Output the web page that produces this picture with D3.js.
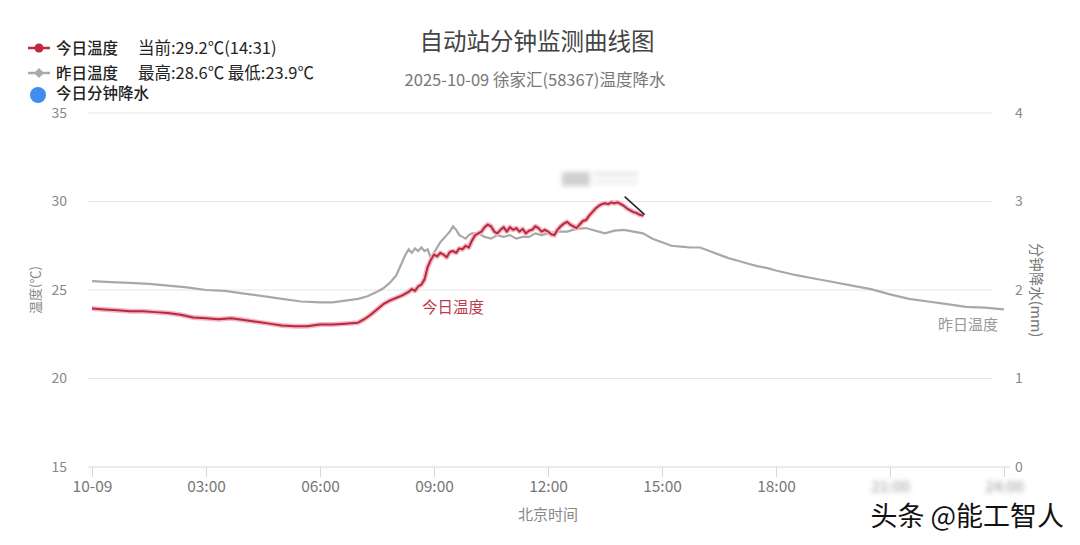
<!DOCTYPE html>
<html>
<head>
<meta charset="utf-8">
<script src="https://cdn.jsdelivr.net/npm/d3@7"></script>
<style>
  body { margin: 0; background: #fff; }
  svg text { font-family: "Noto Sans CJK SC", "Noto Sans", sans-serif; }
</style>
</head>
<body>
<div id="chart"></div>
<script>
// Yesterday temperature (gray), whole day
const yTimes = ["00:00","00:30","01:00","01:30","02:00","02:30","03:00","03:30","04:00","04:30","05:00","05:30","06:00","06:20","06:40","07:00","07:15","07:30","07:40","07:50",
  "08:00","08:05","08:10","08:15","08:20","08:25","08:30","08:35","08:40","08:45","08:50","08:55","09:00","09:05","09:10","09:15","09:20","09:25","09:30","09:35","09:40","09:45","09:50","09:55",
  "10:00","10:10","10:20","10:30","10:40","10:50","11:00","11:10","11:20","11:30","11:40","11:50","12:00","12:15","12:30","12:45","13:00","13:15","13:30","13:45","14:00","14:15","14:30","14:45",
  "15:00","15:15","15:30","15:45","16:00","16:15","16:30","16:45","17:00","17:15","17:30","17:45","18:00","18:30","19:00","19:30","20:00","20:30","21:00","21:30","22:00","22:30","23:00","23:30","24:00"];
const yTemps = [25.5,25.45,25.4,25.35,25.25,25.15,25.0,24.95,24.8,24.65,24.5,24.35,24.3,24.3,24.4,24.5,24.65,24.9,25.1,25.4,
  25.8,26.2,26.6,27.0,27.3,27.1,27.35,27.2,27.4,27.2,27.3,26.8,27.1,27.4,27.7,27.9,28.1,28.3,28.6,28.4,28.1,28.0,27.9,28.1,
  28.2,28.2,28.0,27.9,28.1,28.0,28.1,27.9,28.0,28.0,28.2,28.1,28.2,28.3,28.3,28.45,28.5,28.35,28.2,28.35,28.4,28.3,28.2,27.9,
  27.7,27.5,27.45,27.4,27.4,27.2,27.0,26.8,26.65,26.5,26.35,26.25,26.1,25.85,25.65,25.45,25.25,25.05,24.75,24.5,24.35,24.2,24.05,24.0,23.9];

// Today temperature (red), until 14:31
const tTimes = ["00:00","00:20","00:40","01:00","01:20","01:40","02:00","02:20","02:40","03:00","03:20","03:40","04:00","04:20","04:40","05:00","05:20","05:40","06:00","06:20","06:40",
  "07:00","07:10","07:20","07:30","07:40","07:50","08:00","08:10","08:20","08:25","08:30","08:35","08:40","08:45","08:50","08:55",
  "09:00","09:05","09:10","09:15","09:20","09:25","09:30","09:35","09:40","09:45","09:50","09:55",
  "10:00","10:05","10:10","10:15","10:20","10:25","10:30","10:35","10:40","10:45","10:50","10:55",
  "11:00","11:05","11:10","11:15","11:20","11:25","11:30","11:35","11:40","11:45","11:50","11:55",
  "12:00","12:05","12:10","12:15","12:20","12:25","12:30","12:35","12:40","12:45","12:50","12:55",
  "13:00","13:05","13:10","13:15","13:20","13:25","13:30","13:35","13:40","13:45","13:50","13:55",
  "14:00","14:05","14:10","14:15","14:20","14:25","14:31"];
const tTemps = [23.95,23.9,23.85,23.8,23.8,23.75,23.7,23.6,23.45,23.4,23.35,23.4,23.3,23.2,23.1,23.0,22.95,22.95,23.05,23.05,23.1,
  23.15,23.35,23.6,23.9,24.2,24.4,24.55,24.7,24.9,25.05,24.95,25.2,25.3,25.6,26.3,26.7,
  27.0,26.9,27.1,27.0,26.85,27.15,27.2,27.1,27.35,27.3,27.5,27.4,
  27.8,28.1,28.2,28.3,28.55,28.7,28.6,28.3,28.2,28.4,28.55,28.3,
  28.55,28.4,28.5,28.3,28.45,28.2,28.35,28.4,28.6,28.5,28.3,28.4,
  28.3,28.15,28.1,28.4,28.6,28.75,28.85,28.7,28.6,28.5,28.7,28.9,
  28.95,29.2,29.4,29.6,29.75,29.85,29.9,29.85,29.95,29.9,29.95,29.85,
  29.75,29.6,29.5,29.4,29.35,29.25,29.2];

const xTickHours = [0, 3, 6, 9, 12, 15, 18, 21, 24];
const xTickLabels = ["10-09", "03:00", "06:00", "09:00", "12:00", "15:00", "18:00", "21:00", "24:00"];
const tempTicks = [15, 20, 25, 30, 35];
const rainTicks = [0, 1, 2, 3, 4];

const width = 1080, height = 545;
const svg = d3.select("#chart").append("svg")
    .attr("width", width)
    .attr("height", height);

const defs = svg.append("defs");
defs.append("filter").attr("id", "blur")
    .attr("x", "-20%").attr("y", "-50%").attr("width", "140%").attr("height", "200%")
    .append("feGaussianBlur").attr("stdDeviation", 2.5);

function toHour(s) {
    const p = s.split(":");
    return +p[0] + (+p[1]) / 60;
}

const yesterday = yTimes.map((t, i) => ({ h: toHour(t), v: yTemps[i] }));
const today = tTimes.map((t, i) => ({ h: toHour(t), v: tTemps[i] }));

// scales
const x = d3.scaleLinear().domain([0, 24]).range([92, 1004]);
const yT = d3.scaleLinear().domain([15, 35]).range([467, 113]);
const yR = d3.scaleLinear().domain([0, 4]).range([467, 113]);

// grid lines
svg.append("g")
    .selectAll("line")
    .data(tempTicks.slice(1))
    .join("line")
    .attr("x1", 88).attr("x2", 992)
    .attr("y1", d => yT(d)).attr("y2", d => yT(d))
    .attr("stroke", "#e6e6e6")
    .attr("stroke-width", 1);

// bottom axis line
svg.append("line")
    .attr("x1", 88).attr("x2", 1010)
    .attr("y1", yT(15)).attr("y2", yT(15))
    .attr("stroke", "#d8d8d8");

// x axis
const xAxis = svg.append("g")
    .attr("transform", "translate(0," + yT(15) + ")")
    .call(d3.axisBottom(x).tickValues(xTickHours).tickSize(10).tickPadding(4)
        .tickFormat((d, i) => xTickLabels[i]));
xAxis.select(".domain").remove();
xAxis.selectAll(".tick line").attr("stroke", "#d8d8d8");
xAxis.selectAll(".tick text")
    .attr("fill", "#777")
    .attr("font-size", 15.5)
    .attr("font-family", "'Noto Sans CJK SC', sans-serif")
    .filter(d => d >= 21)
    .attr("fill", "#999")
    .attr("filter", "url(#blur)");

// left axis
const yAxisL = svg.append("g")
    .attr("transform", "translate(70,0)")
    .call(d3.axisLeft(yT).tickValues(tempTicks).tickSize(0).tickPadding(3));
yAxisL.select(".domain").remove();
yAxisL.selectAll(".tick text")
    .attr("fill", "#888")
    .attr("font-size", 14)
    .attr("font-family", "'Noto Sans', sans-serif");

// right axis
const yAxisR = svg.append("g")
    .attr("transform", "translate(1012,0)")
    .call(d3.axisRight(yR).tickValues(rainTicks).tickSize(0).tickPadding(3)
        .tickFormat(d3.format("d")));
yAxisR.select(".domain").remove();
yAxisR.selectAll(".tick text")
    .attr("fill", "#888")
    .attr("font-size", 14)
    .attr("font-family", "'Noto Sans', sans-serif");

// axis titles
svg.append("text")
    .attr("transform", "translate(40,290) rotate(-90)")
    .attr("text-anchor", "middle")
    .attr("fill", "#888")
    .attr("font-size", 13)
    .text("温度(℃)");

svg.append("text")
    .attr("transform", "translate(1031,290) rotate(90)")
    .attr("text-anchor", "middle")
    .attr("fill", "#777")
    .attr("font-size", 14.5)
    .text("分钟降水(mm)");

svg.append("text")
    .attr("x", 548).attr("y", 520)
    .attr("text-anchor", "middle")
    .attr("fill", "#888")
    .attr("font-size", 15)
    .text("北京时间");

// title
svg.append("text")
    .attr("x", 537).attr("y", 50)
    .attr("text-anchor", "middle")
    .attr("fill", "#444")
    .attr("font-size", 23.5)
    .text("自动站分钟监测曲线图");

svg.append("text")
    .attr("x", 535).attr("y", 86)
    .attr("text-anchor", "middle")
    .attr("fill", "#777")
    .attr("font-size", 16.5)
    .text("2025-10-09 徐家汇(58367)温度降水");

// lines
const lineT = d3.line().x(d => x(d.h)).y(d => yT(d.v));

svg.append("path")
    .datum(yesterday)
    .attr("d", lineT)
    .attr("fill", "none")
    .attr("stroke", "#a8a8a8")
    .attr("stroke-width", 2.2);

svg.append("path")
    .datum(today)
    .attr("d", lineT)
    .attr("fill", "none")
    .attr("stroke", "#f3b8c3")
    .attr("stroke-width", 5)
    .attr("stroke-linejoin", "round");

svg.append("path")
    .datum(today)
    .attr("d", lineT)
    .attr("fill", "none")
    .attr("stroke", "#b8283e")
    .attr("stroke-width", 2)
    .attr("stroke-linejoin", "round");

// series labels
svg.append("text")
    .attr("x", 422).attr("y", 313)
    .attr("fill", "#c0384e")
    .attr("font-size", 15.5)
    .text("今日温度");

svg.append("text")
    .attr("x", 998).attr("y", 330)
    .attr("text-anchor", "end")
    .attr("fill", "#999")
    .attr("font-size", 15)
    .text("昨日温度");

// blurred tooltip remnant near the last point
const tip = svg.append("g").attr("filter", "url(#blur)");
tip.append("rect").attr("x", 562).attr("y", 172).attr("width", 28).attr("height", 14).attr("fill", "#cfcfcf");
tip.append("rect").attr("x", 594).attr("y", 172).attr("width", 44).attr("height", 4).attr("fill", "#e4e4e4");
tip.append("rect").attr("x", 594).attr("y", 181).attr("width", 44).attr("height", 3).attr("fill", "#e8e8e8");

const last = today[today.length - 1];
svg.append("line")
    .attr("x1", x(last.h) - 19).attr("y1", yT(last.v) - 19)
    .attr("x2", x(last.h) + 1).attr("y2", yT(last.v) - 1)
    .attr("stroke", "#222")
    .attr("stroke-width", 1.5);

// legend
const legend = svg.append("g");
legend.append("line").attr("x1", 28).attr("x2", 50).attr("y1", 48).attr("y2", 48)
    .attr("stroke", "#c0283e").attr("stroke-width", 2.5);
legend.append("circle").attr("cx", 39).attr("cy", 48).attr("r", 4.5).attr("fill", "#c0283e");
legend.append("line").attr("x1", 28).attr("x2", 50).attr("y1", 73).attr("y2", 73)
    .attr("stroke", "#aaa").attr("stroke-width", 2.5);
legend.append("path").attr("d", "M39,68 L44,73 L39,78 L34,73 Z").attr("fill", "#aaa");
legend.append("circle").attr("cx", 38).attr("cy", 95).attr("r", 8).attr("fill", "#3d8ef0");

const legendRows = [
    ["今日温度", "当前:29.2℃(14:31)", 54],
    ["昨日温度", "最高:28.6℃ 最低:23.9℃", 79],
    ["今日分钟降水", "", 99]
];
legendRows.forEach(r => {
    legend.append("text").attr("x", 56).attr("y", r[2])
        .attr("fill", "#222").attr("font-size", 15.5).attr("font-weight", 500).text(r[0]);
    legend.append("text").attr("x", 138).attr("y", r[2])
        .attr("fill", "#222").attr("font-size", 16.5).text(r[1]);
});

// watermark
svg.append("text")
    .attr("x", 1064).attr("y", 526)
    .attr("text-anchor", "end")
    .attr("font-size", 27)
    .attr("fill", "#111")
    .attr("stroke", "#fff")
    .attr("stroke-width", 3)
    .attr("paint-order", "stroke")
    .text("头条 @能工智人");
</script>
</body>
</html>
